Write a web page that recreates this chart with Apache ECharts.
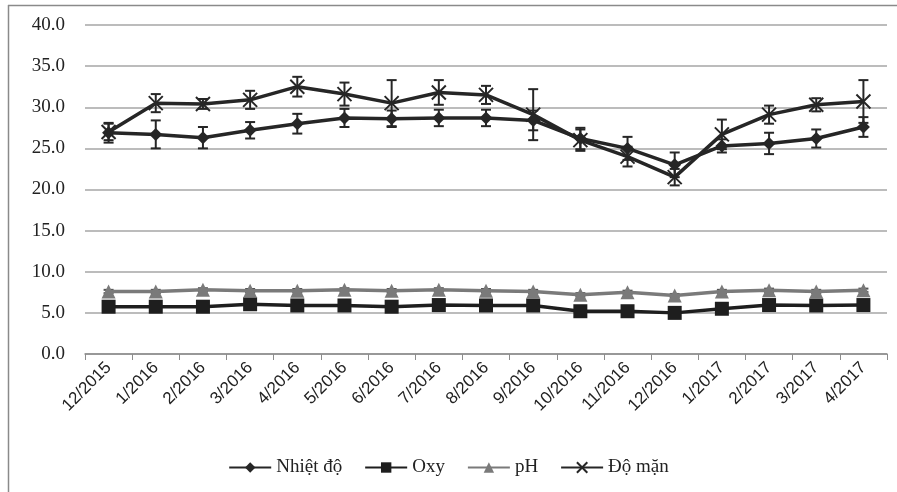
<!DOCTYPE html>
<html>
<head>
<meta charset="utf-8">
<script src="https://cdn.jsdelivr.net/npm/echarts@6/dist/echarts.min.js"></script>
<style>
html,body{margin:0;padding:0;background:#fff;}
#c{width:897px;height:492px;}
</style>
</head>
<body>
<div id="c"></div>
<script>
var categories = ['12/2015','1/2016','2/2016','3/2016','4/2016','5/2016','6/2016','7/2016','8/2016','9/2016','10/2016','11/2016','12/2016','1/2017','2/2017','3/2017','4/2017'];
var yTicks = [0,5,10,15,20,25,30,35,40];

var nhietDo    = [26.9, 26.7, 26.3, 27.2, 28.0, 28.7, 28.6, 28.7, 28.7, 28.4, 26.2, 25.0, 23.0, 25.3, 25.6, 26.2, 27.6];
var nhietDoErr = [1.2, 1.7, 1.3, 1.0, 1.2, 1.1, 1.0, 1.0, 1.0, 1.2, 1.3, 1.4, 1.5, 0.8, 1.3, 1.1, 1.2];

var oxy    = [5.75, 5.75, 5.75, 6.05, 5.9, 5.9, 5.75, 5.95, 5.9, 5.9, 5.2, 5.2, 5.0, 5.5, 5.95, 5.9, 5.95];
var oxyErr = [0.6, 0.6, 0.6, 0.5, 0.6, 0.6, 0.6, 0.6, 0.6, 0.6, 0.6, 0.6, 0.6, 0.6, 0.6, 0.6, 0.6];

var ph    = [7.6, 7.6, 7.8, 7.7, 7.7, 7.8, 7.7, 7.8, 7.7, 7.6, 7.2, 7.5, 7.1, 7.6, 7.75, 7.6, 7.75];
var phErr = [0.2, 0.2, 0.2, 0.2, 0.2, 0.2, 0.2, 0.2, 0.2, 0.2, 0.2, 0.2, 0.2, 0.2, 0.2, 0.2, 0.2];

var doMan    = [27.0, 30.5, 30.4, 30.9, 32.5, 31.6, 30.5, 31.8, 31.5, 29.1, 26.0, 24.0, 21.5, 26.7, 29.1, 30.3, 30.7];
var doManErr = [1.0, 1.1, 0.6, 1.1, 1.2, 1.4, 2.8, 1.5, 1.1, 3.1, 1.3, 1.2, 1.0, 1.8, 1.1, 0.8, 2.6];

var seriesNames = ['Nhiệt độ','Oxy','pH','Độ mặn'];

var crossPath = 'path://M0,0 L10,10 M10,0 L0,10';

function errData(vals, errs){
  return vals.map(function(v,i){ return [i, v - errs[i], v + errs[i]]; });
}
function errSeries(vals, errs, color){
  return {
    type: 'custom',
    silent: true,
    z: 3,
    data: errData(vals, errs),
    renderItem: function(params, api){
      var x = api.value(0);
      var lo = api.coord([x, api.value(1)]);
      var hi = api.coord([x, api.value(2)]);
      var w = 5;
      var st = {stroke: color, lineWidth: 2};
      return {type:'group', children:[
        {type:'line', shape:{x1:hi[0],y1:hi[1],x2:lo[0],y2:lo[1]}, style:st},
        {type:'line', shape:{x1:hi[0]-w,y1:hi[1],x2:hi[0]+w,y2:hi[1]}, style:st},
        {type:'line', shape:{x1:lo[0]-w,y1:lo[1],x2:lo[0]+w,y2:lo[1]}, style:st}
      ]};
    }
  };
}

var chart = echarts.init(document.getElementById('c'));
var serif = '"Liberation Serif", "DejaVu Serif", serif';
chart.setOption({
  animation: false,
  backgroundColor: '#fff',
  graphic: [
    {type:'line', shape:{x1:8.5,y1:5,x2:8.5,y2:492}, style:{stroke:'#8a8a8a', lineWidth:1.5}},
    {type:'line', shape:{x1:8,y1:5.5,x2:897,y2:5.5}, style:{stroke:'#8a8a8a', lineWidth:1.5}}
  ],
  grid: {left: 85, right: 10, top: 25, bottom: 138},
  legend: {
    bottom: 10,
    left: 'center',
    itemWidth: 42,
    itemHeight: 13,
    itemGap: 22,
    textStyle: {fontFamily: serif, fontSize: 19, color: '#222'},
    data: seriesNames
  },
  xAxis: {
    type: 'category',
    data: categories,
    boundaryGap: true,
    axisLine: {lineStyle: {color: '#8c8c8c', width: 1.5}},
    axisTick: {show: true, length: 6, lineStyle: {color: '#8c8c8c'}},
    axisLabel: {rotate: 45, fontFamily: '"Liberation Sans", "Open Sans", sans-serif', fontSize: 17, color: '#222', margin: 11, interval: 0}
  },
  yAxis: {
    type: 'value',
    min: yTicks[0],
    max: yTicks[yTicks.length-1],
    interval: 5,
    axisLine: {show: false},
    axisTick: {show: false},
    splitLine: {lineStyle: {color: '#a6a6a6', width: 1.5}},
    axisLabel: {formatter: function(v){ return v.toFixed(1); }, fontFamily: serif, fontSize: 19, color: '#222', margin: 20}
  },
  series: [
    {name: seriesNames[0], type:'line', data: nhietDo, symbol:'diamond', symbolSize: 13, z: 4,
     lineStyle:{color:'#262626', width:3.5}, itemStyle:{color:'#262626'}},
    {name: seriesNames[1], type:'line', data: oxy, symbol:'rect', symbolSize: 14, z: 4,
     lineStyle:{color:'#1e1e1e', width:3.5}, itemStyle:{color:'#1e1e1e'}},
    {name: seriesNames[2], type:'line', data: ph, symbol:'triangle', symbolSize: 14, z: 4,
     lineStyle:{color:'#7a7a7a', width:3.5}, itemStyle:{color:'#7a7a7a'}},
    {name: seriesNames[3], type:'line', data: doMan, symbol: crossPath, symbolSize: 14, z: 4,
     lineStyle:{color:'#262626', width:3.5}, itemStyle:{color:'none', borderColor:'#262626', borderWidth:2}},
    errSeries(nhietDo, nhietDoErr, '#262626'),
    errSeries(oxy, oxyErr, '#1e1e1e'),
    errSeries(ph, phErr, '#555'),
    errSeries(doMan, doManErr, '#262626')
  ]
});
</script>
</body>
</html>
